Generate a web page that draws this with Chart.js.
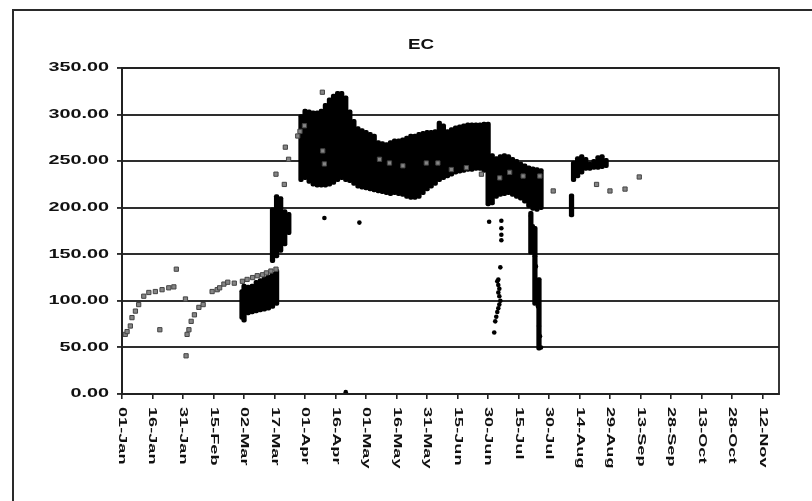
<!DOCTYPE html>
<html>
<head>
<meta charset="utf-8">
<title>EC</title>
<script src="https://cdn.jsdelivr.net/npm/chart.js@4.4.0/dist/chart.umd.min.js"></script>
<style>
  html, body { margin: 0; padding: 0; background: #ffffff; }
  canvas { display: block; }
</style>
</head>
<body>
<canvas id="ec" width="812" height="501"></canvas>
<script>
// ---- chart text ----
const chartTitle = 'EC';
const yTickValues = [0, 50, 100, 150, 200, 250, 300, 350];
const xTickDays = [0, 15, 30, 45, 60, 75, 90, 105, 120, 135, 150, 165, 180, 195, 210, 225, 240, 255, 270, 285, 300, 315];
const xTickLabels = ['01-Jan', '16-Jan', '31-Jan', '15-Feb', '02-Mar', '17-Mar', '01-Apr', '16-Apr',
  '01-May', '16-May', '31-May', '15-Jun', '30-Jun', '15-Jul', '30-Jul', '14-Aug', '29-Aug',
  '13-Sep', '28-Sep', '13-Oct', '28-Oct', '12-Nov'];

// ---- logger readings: spread of the continuous EC record (day of year, low, high) ----
const loggerDays = [
  59, 60, 62, 64, 66, 68, 70, 72, 74, 76,
  74, 76, 78, 80, 82,
  88, 90, 92, 94, 96, 98, 100, 102, 104, 106, 108, 110, 112, 114, 116, 118, 120, 122, 124, 126,
  128, 130, 132, 134, 136, 138, 140, 142, 144, 146, 148, 150, 152, 154, 156, 158, 160, 162, 164,
  166, 168, 170, 172, 174, 176, 178, 180,
  182, 184, 186, 188, 190, 192, 194, 196, 198, 200, 202, 204, 206,
  201, 203, 205,
  221, 222, 224, 226, 228, 230, 232, 234, 236, 238
];
const loggerLow = [
  80, 77, 85, 86, 87, 88, 89, 90, 92, 95,
  141, 146, 152, 159, 171,
  228, 230, 226, 223, 222, 222, 222, 223, 225, 228, 230, 228, 227, 224, 221, 220, 219, 218, 217, 216,
  215, 214, 213, 214, 213, 212, 210, 209, 209, 210, 214, 218, 221, 224, 228, 230, 232, 234, 236,
  237, 238, 239, 239, 240, 240, 238, 202,
  203, 210, 212, 213, 214, 212, 210, 208, 205, 200, 197, 196, 198,
  150, 95, 47,
  190, 228, 232, 236, 240, 240, 241, 241, 242, 243
];
const loggerHigh = [
  112, 118, 117, 118, 122, 124, 126, 128, 131, 134,
  200, 214, 212, 198, 195,
  300, 306, 305, 304, 304, 306, 312, 318, 322, 325, 325, 320, 305, 295, 287, 285, 283, 281, 279, 272,
  271, 270, 272, 274, 274, 275, 277, 279, 279, 281, 282, 283, 283, 284, 293, 290, 284, 286, 288,
  289, 290, 291, 291, 291, 291, 292, 292,
  258, 255, 257, 258, 257, 254, 252, 249, 247, 245, 244, 243, 242,
  196, 180, 125,
  215, 250, 255, 257, 254, 249, 252, 256, 257, 253
];

// ---- isolated logger readings (day of year, EC) ----
const loggerSpotDays = [99.5, 116.7, 110,
  180.5, 186.5, 186.5, 186.5, 186.5, 186, 185, 184.5, 185, 185.5, 185, 185.5, 186, 185.5, 185, 184.5, 184, 183.5, 183,
  201, 202, 202.5, 203, 203.5, 204, 204.5, 205, 205.5, 206];
const loggerSpotValues = [189, 184, 2,
  185, 186, 178, 171, 165, 136, 123, 121, 117, 113, 109, 105, 100, 96, 92, 88, 83, 78, 66,
  191, 180, 170, 148, 137, 116, 94, 73, 62, 50];

// ---- sampled EC values (day of year, EC) ----
const sampleDays = [
  1.6, 2.5, 4.1, 4.9, 6.6, 8.2, 10.7, 13.2, 16.4, 19.7, 23, 25.5, 26.7, 18.6, 31.2, 31.5,
  32, 32.9, 34, 35.6, 37.8, 39.9, 44.3, 46.8, 48, 50.1, 52, 55.2, 59.2, 61.5, 64.2, 66.5, 69.1, 71, 73.2, 75.7,
  75.7, 79.8, 80.3, 81.9, 86.4, 87.5, 89.7,
  98.5, 98.7, 99.5, 126.6, 131.5, 138.1, 149.6, 155.3, 161.9, 169.3, 176.7,
  185.7, 190.6, 197.2, 205.4, 212, 233.3, 239.9, 247.3, 254.3
];
const sampleValues = [
  64, 67, 73, 82, 89, 96, 105, 109, 110, 112, 114, 115, 134, 69, 102, 41,
  64, 69, 78, 85, 93, 96, 110, 112, 114, 118, 120, 119, 121, 123, 125, 127, 128, 130, 132, 134,
  236, 225, 265, 252, 277, 282, 288,
  324, 261, 247, 252, 248, 245, 248, 248, 241, 243, 236,
  232, 238, 234, 234, 218, 225, 218, 220, 233
];

// ---- drawing helpers ----
const FONT = '"Liberation Sans", Arial, sans-serif';

function stretchedText(ctx, text, x, y, sx, align, baseline, angle) {
  ctx.save();
  ctx.translate(x, y);
  if (angle) ctx.rotate(angle);
  ctx.scale(sx, 1);
  ctx.textAlign = align;
  ctx.textBaseline = baseline;
  ctx.fillText(text, 0, 0);
  ctx.restore();
}

const frameAndText = {
  id: 'frameAndText',
  afterDraw(chart) {
    const ctx = chart.ctx;
    const area = chart.chartArea;
    const xs = chart.scales.x;
    const ys = chart.scales.y;
    ctx.save();

    // outer frame (top and left edges)
    ctx.strokeStyle = '#2a2a2a';
    ctx.lineWidth = 2;
    ctx.beginPath();
    ctx.moveTo(13, 505);
    ctx.lineTo(13, 10);
    ctx.lineTo(815, 10);
    ctx.stroke();

    // plot box
    ctx.strokeStyle = '#222';
    ctx.lineWidth = 1.8;
    ctx.strokeRect(area.left, area.top, area.right - area.left, area.bottom - area.top);

    // title
    ctx.fillStyle = '#111';
    ctx.font = 'bold 15px ' + FONT;
    stretchedText(ctx, chartTitle, 421, 45, 1.25, 'center', 'middle', 0);

    // value axis labels
    ctx.font = 'bold 12px ' + FONT;
    yTickValues.forEach(v => {
      stretchedText(ctx, v.toFixed(2), 109, ys.getPixelForValue(v), 1.65, 'right', 'middle', 0);
    });

    // date axis labels, turned to read downwards
    ctx.font = 'bold 11px ' + FONT;
    xTickDays.forEach((d, i) => {
      stretchedText(ctx, xTickLabels[i], xs.getPixelForValue(d), 407, 1.65, 'left', 'middle', Math.PI / 2);
    });
    ctx.restore();
  }
};

new Chart(document.getElementById('ec'), {
  type: 'scatter',
  data: {
    datasets: [
      {
        type: 'bar',
        label: 'Logger range',
        data: loggerDays.map((d, i) => ({ x: d, y: [loggerLow[i], loggerHigh[i]] })),
        backgroundColor: '#000000',
        borderWidth: 0,
        borderRadius: 2,
        borderSkipped: false,
        barThickness: 4.6,
        order: 3
      },
      {
        type: 'scatter',
        label: 'Logger',
        data: loggerSpotDays.map((d, i) => ({ x: d, y: loggerSpotValues[i] })),
        pointStyle: 'circle',
        pointRadius: 2.3,
        backgroundColor: '#000000',
        borderWidth: 0,
        order: 2
      },
      {
        type: 'scatter',
        label: 'Sample',
        data: sampleDays.map((d, i) => ({ x: d, y: sampleValues[i] })),
        pointStyle: 'rect',
        pointRadius: 3,
        backgroundColor: '#858585',
        borderColor: '#444444',
        borderWidth: 1,
        order: 1
      }
    ]
  },
  options: {
    responsive: false,
    animation: false,
    devicePixelRatio: 1,
    layout: { padding: { left: 122, top: 68, right: 33, bottom: 107 } },
    plugins: {
      legend: { display: false },
      tooltip: { enabled: false },
      title: { display: false }
    },
    scales: {
      x: {
        type: 'linear',
        min: 0,
        max: 323,
        offset: false,
        afterFit(scale) { scale.height = 0; },
        afterBuildTicks(scale) { scale.ticks = xTickDays.map(v => ({ value: v })); },
        ticks: { display: false },
        grid: { display: true, drawOnChartArea: false, drawTicks: true, tickLength: 5, color: '#222', lineWidth: 1.6, offset: false },
        border: { display: true, color: '#222', width: 2 }
      },
      y: {
        min: 0,
        max: 350,
        afterFit(scale) { scale.width = 0; },
        afterBuildTicks(scale) { scale.ticks = yTickValues.map(v => ({ value: v })); },
        ticks: { display: false },
        grid: { color: '#2e2e2e', lineWidth: 1.9, drawTicks: true, tickLength: 5 },
        border: { display: true, color: '#222', width: 2 }
      }
    }
  },
  plugins: [frameAndText]
});
</script>
</body>
</html>
